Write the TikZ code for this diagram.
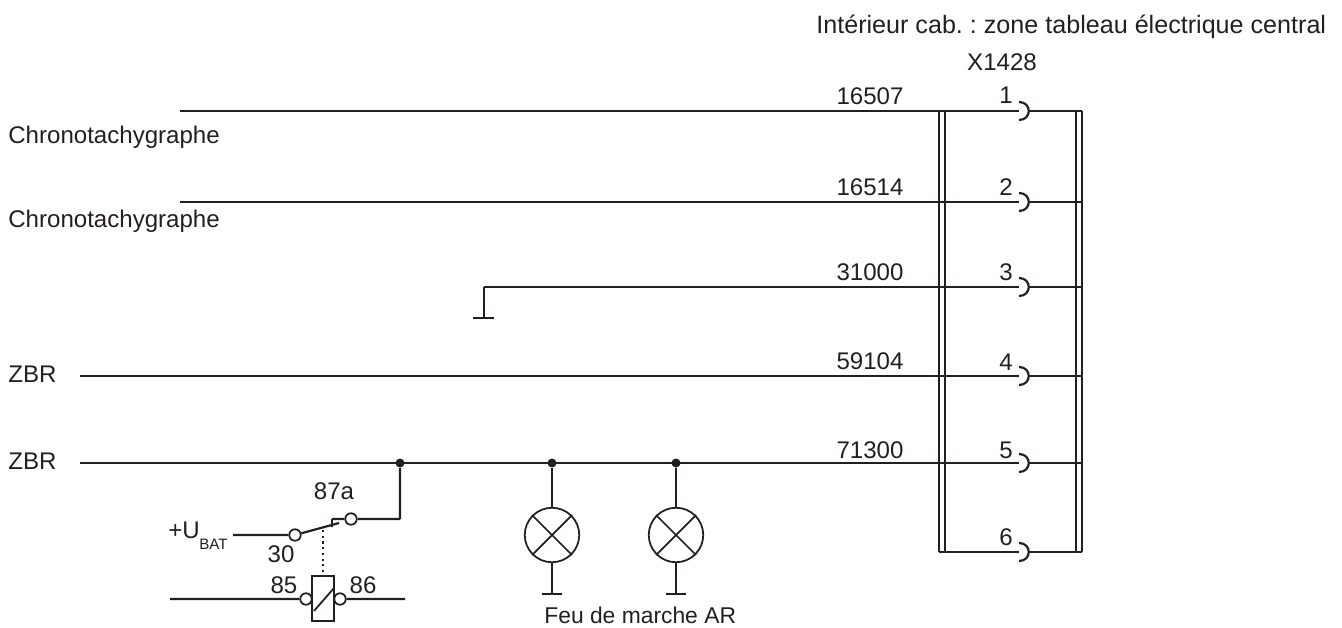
\documentclass[tikz,border=0pt]{standalone}
\usepackage{fontspec}
\setmainfont{Liberation Sans}
\usepackage{xcolor}
\definecolor{wire}{HTML}{231F20}
\usetikzlibrary{positioning}
\frenchspacing
\tikzset{
    wireline/.style={draw=wire, line width=1.25pt},
    thinline/.style={draw=wire, line width=1pt},
    txt/.style={inner sep=0pt, text=wire, font=\fontsize{13.7}{16}\selectfont},
    contact/.style={circle, thinline, fill=white, minimum size=0.23cm, inner sep=0pt},
    junction/.style={circle, fill=wire, minimum size=0.18cm, inner sep=0pt},
    lamp/.style={circle, thinline, minimum size=1.09cm, inner sep=0pt},
    plug/.pic={\draw[wireline] (-10,-9) .. controls (3,-9) and (3,9) .. (-10,9);}
}

\begin{document}
\begin{tikzpicture}[x=0.02cm, y=-0.02cm]
        \useasboundingbox (0, 0) rectangle (1342, 628);

        % wires on the left
        \coordinate (w1) at (180, 111);
        \coordinate (w2) at (180, 202);
        \coordinate (w3) at (484, 287);
        \coordinate (w4) at (80, 376);
        \coordinate (w5) at (80, 463);
        \coordinate (w6) at (939, 552);

        % gaps at the connector
        \coordinate (a1) at (1019, 111);
        \coordinate (a2) at (1019, 202);
        \coordinate (a3) at (1019, 287);
        \coordinate (a4) at (1019, 376);
        \coordinate (a5) at (1019, 463);
        \coordinate (a6) at (1019, 552);
        \coordinate (b1) at (1029, 111);
        \coordinate (b2) at (1029, 202);
        \coordinate (b3) at (1029, 287);
        \coordinate (b4) at (1029, 376);
        \coordinate (b5) at (1029, 463);
        \coordinate (b6) at (1029, 552);
        \coordinate (c1) at (1082, 111);
        \coordinate (c2) at (1082, 202);
        \coordinate (c3) at (1082, 287);
        \coordinate (c4) at (1082, 376);
        \coordinate (c5) at (1082, 463);
        \coordinate (c6) at (1082, 552);

        % shields
        \coordinate (s1) at (939, 111);
        \coordinate (s2) at (939, 552);
        \coordinate (s3) at (945, 111);
        \coordinate (s4) at (945, 552);
        \coordinate (s5) at (1076, 111);
        \coordinate (s6) at (1076, 552);

        \draw[wireline] (w1) to (a1)
            (w2) to (a2)
            (w3) to (a3)
            (w4) to (a4)
            (w5) to (a5)
            (w6) to (a6)
            (b1) to (c1)
            (b2) to (c2)
            (b3) to (c3)
            (b4) to (c4)
            (b5) to (c5)
            (b6) to (c6)
            (s3) to (s4)
            (s5) to (s6);
        \draw[thinline] (s1) to (s2)
            (c1) to (c6);

        \pic at (b1) {plug};
        \pic at (b2) {plug};
        \pic at (b3) {plug};
        \pic at (b4) {plug};
        \pic at (b5) {plug};
        \pic at (b6) {plug};

        % earth of 31000
        \coordinate (e1) at (484, 318);
        \coordinate (e2) at (473, 318);
        \coordinate (e3) at (494, 318);
        \draw[wireline] (w3) to (e1)
            (e2) to (e3);

        % relay
        \node[junction] (jr) at (400, 463) {};
        \node[contact] (k87) at (351, 519) {};
        \node[contact] (k30) at (295, 535) {};
        \coordinate (ubat) at (233, 535);
        \coordinate (t1) at (400, 519);
        \coordinate (t2) at (339, 523);
        \coordinate (f1) at (332, 527);
        \coordinate (f2) at (332, 519);
        \coordinate (d1) at (323, 530);
        \coordinate (d2) at (323, 576);
        \coordinate (q1) at (314, 611);
        \coordinate (q2) at (334, 588);
        \node[thinline, draw, minimum width=0.44cm, minimum height=0.9cm, inner sep=0pt] (coil) at (323, 598.5) {};
        \node[contact] (k85) at (306, 599) {};
        \node[contact] (k86) at (340, 599) {};
        \coordinate (r1) at (170, 599);
        \coordinate (r2) at (405, 599);

        \draw[wireline] (jr) to (t1)
            (t1) to (k87)
            (ubat) to (k30)
            (k30) to (t2)
            (f2) to (k87)
            (r1) to (k85)
            (k86) to (r2);
        \draw[thinline] (f1) to (f2)
            (q1) to (q2);
        \draw[wireline, dotted] (d1) to (d2);

        % lamps
        \node[junction] (j1) at (552, 463) {};
        \node[junction] (j2) at (676, 463) {};
        \node[lamp] (l1) at (552, 535) {};
        \node[lamp] (l2) at (676, 535) {};
        \coordinate (g1) at (552, 594);
        \coordinate (g2) at (676, 594);
        \coordinate (g3) at (542, 594);
        \coordinate (g4) at (562, 594);
        \coordinate (g5) at (666, 594);
        \coordinate (g6) at (686, 594);

        \draw[wireline] (j1) to (l1)
            (j2) to (l2)
            (l1) to (g1)
            (l2) to (g2)
            (g3) to (g4)
            (g5) to (g6);
        \draw[thinline] (l1.45) to (l1.225)
            (l1.135) to (l1.315)
            (l2.45) to (l2.225)
            (l2.135) to (l2.315);

        % labels
        \node[txt, font=\fontsize{14.3}{16}\selectfont, anchor=west] (title) at (816, 27) {Intérieur cab. : zone tableau électrique central};
        \node[txt] (conn) at (1002, 62) {X1428};
        \node[txt] (n1) at (870, 96) {16507};
        \node[txt] (n2) at (870, 187) {16514};
        \node[txt] (n3) at (870, 272) {31000};
        \node[txt] (n4) at (870, 361) {59104};
        \node[txt] (n5) at (870, 450) {71300};
        \node[txt] (p1) at (1006, 95) {1};
        \node[txt] (p2) at (1006, 187) {2};
        \node[txt] (p3) at (1006, 272) {3};
        \node[txt] (p4) at (1006, 362) {4};
        \node[txt] (p5) at (1006, 450) {5};
        \node[txt] (p6) at (1006, 537) {6};
        \node[txt, anchor=west] (l1txt) at (8, 137) {Chronotachygraphe};
        \node[txt, anchor=west] (l2txt) at (8, 221) {Chronotachygraphe};
        \node[txt, anchor=west] (l4txt) at (8, 374) {ZBR};
        \node[txt, anchor=west] (l5txt) at (8, 461) {ZBR};
        \node[txt] (t87) at (334, 491) {87a};
        \node[txt] (t30) at (281, 554) {30};
        \node[txt] (t85) at (284, 585) {85};
        \node[txt] (t86) at (363, 585) {86};
        \node[txt, anchor=west] (tu) at (168, 530) {+U};
        \node[inner sep=0pt, text=wire, font=\fontsize{8.6}{10}\selectfont, anchor=west] (tb) at (199, 544) {BAT};
        \node[txt, font=\fontsize{13}{16}\selectfont, anchor=west] (feu) at (544, 615) {Feu de marche AR};
    \end{tikzpicture}
\end{document}
